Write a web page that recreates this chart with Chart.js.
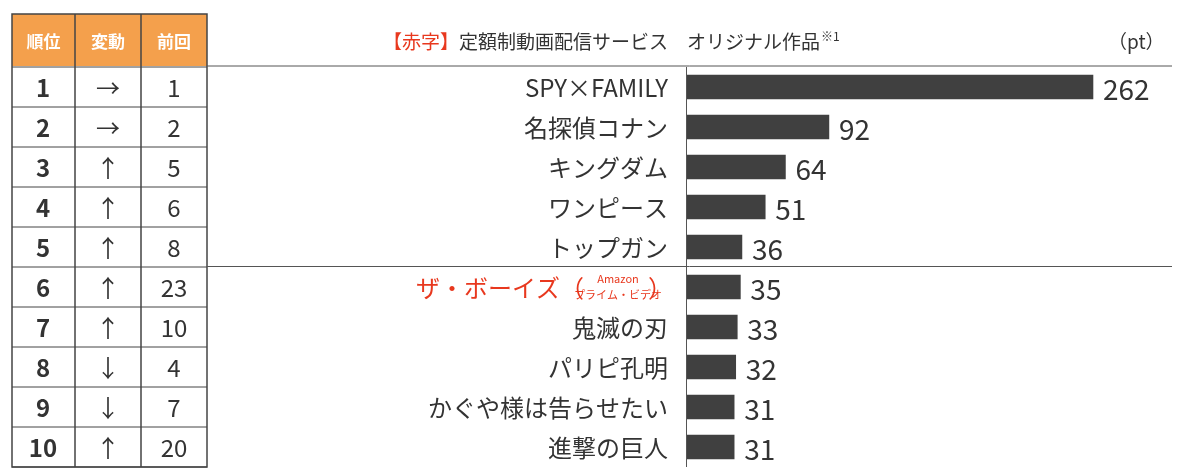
<!DOCTYPE html>
<html><head><meta charset="utf-8">
<script src="https://cdn.jsdelivr.net/npm/chart.js@4"></script>
<style>html,body{margin:0;padding:0;background:#fff}#w{width:1200px;height:473px}</style>
</head><body><div id="w"><canvas id="c"></canvas></div>
<script>
const titles = ["SPY×FAMILY","名探偵コナン","キングダム","ワンピース","トップガン","ザ・ボーイズ","鬼滅の刃","パリピ孔明","かぐや様は告らせたい","進撃の巨人"];
const points = [262,92,64,51,36,35,33,32,31,31];
const ranks = ["1","2","3","4","5","6","7","8","9","10"];
const moves = ["→","→","↑","↑","↑","↑","↑","↓","↓","↑"];
const prevRanks = ["1","2","5","6","8","23","10","4","7","20"];
const headers = ["順位","変動","前回"];
const JP = '"Noto Sans CJK JP","Noto Sans",sans-serif';

const deco = {
  id:'deco',
  afterDraw(chart){
    const ctx=chart.ctx, y=chart.scales.y, ca=chart.chartArea;
    ctx.save();
    const cols=[12,75,141,207];
    ctx.fillStyle='#F4A04C';
    ctx.fillRect(12,14,195,52);
    ctx.strokeStyle='#444';ctx.lineWidth=1.5;
    ctx.strokeRect(12,14,195,453);
    ctx.fillStyle='#fff';ctx.font='bold 17px '+JP;ctx.textAlign='center';ctx.textBaseline='middle';
    headers.forEach((h,i)=>ctx.fillText(h,(cols[i]+cols[i+1])/2,42));
    ctx.beginPath();
    for(let i=1;i<3;i++){ctx.moveTo(cols[i],14);ctx.lineTo(cols[i],467);}
    ctx.stroke();
    ctx.lineWidth=1;
    ctx.beginPath();
    for(let i=0;i<=10;i++){const yy=ca.top+i*(ca.bottom-ca.top)/10;ctx.moveTo(12,yy);ctx.lineTo(207,yy);}
    ctx.stroke();
    ctx.strokeStyle='#555';
    ctx.beginPath();
    ctx.moveTo(207,66);ctx.lineTo(1172,66);
    ctx.moveTo(207,266.5);ctx.lineTo(1172,266.5);
    ctx.stroke();
    ctx.beginPath();ctx.moveTo(ca.left+0.5,ca.top);ctx.lineTo(ca.left+0.5,ca.bottom);ctx.stroke();
    ctx.fillStyle='#333';
    ranks.forEach((r,i)=>{
      const yy=y.getPixelForValue(i);
      ctx.font='bold 24px '+JP;ctx.fillText(r,43,yy+1);
      ctx.font='24px '+JP;ctx.fillText(moves[i],108,yy+1);
      ctx.fillText(prevRanks[i],174,yy+1);
    });
    // category labels
    ctx.textAlign='right';ctx.font='24px '+JP;ctx.fillStyle='#333';
    titles.forEach((t,i)=>{ if(i!==5) ctx.fillText(t,668,y.getPixelForValue(i)+1); });
    const x=chart.scales.x;
    ctx.textAlign='left';ctx.font='28px '+JP;ctx.fillStyle='#333';
    points.forEach((v,i)=>ctx.fillText(v,x.getPixelForValue(v)+10,y.getPixelForValue(i)+2));
    const yy=y.getPixelForValue(5);
    ctx.textAlign='right';ctx.fillStyle='#E8381E';
    ctx.font='24px '+JP;ctx.fillText('）',672,yy+1);
    ctx.font='11px '+JP;ctx.textAlign='center';
    ctx.fillText('Amazon',618,yy-8);ctx.fillText('プライム・ビデオ',618,yy+8);
    ctx.textAlign='right';ctx.font='24px '+JP;ctx.fillText('ザ・ボーイズ（',584,yy+1);
    ctx.textAlign='left';ctx.font='19px '+JP;
    const t1='【赤字】',t2='定額制動画配信サービス　オリジナル作品';
    let tx=383;
    ctx.fillStyle='#E8381E';ctx.fillText(t1,tx,42);tx+=ctx.measureText(t1).width;
    ctx.fillStyle='#333';ctx.fillText(t2,tx,42);tx+=ctx.measureText(t2).width;
    ctx.font='12px '+JP;ctx.fillText('※1',tx+1,36);
    ctx.font='19px '+JP;ctx.fillText('（pt）',1108,42);
    ctx.restore();
  }
};

new Chart(document.getElementById('c'),{
  type:'bar',
  data:{labels:titles,datasets:[{data:points,backgroundColor:'#404040',barThickness:24}]},
  options:{
    indexAxis:'y',responsive:true,maintainAspectRatio:false,animation:false,
    layout:{padding:{top:67,bottom:6,left:686,right:48}},
    plugins:{legend:{display:false},tooltip:{enabled:false}},
    scales:{
      x:{min:0,max:300,display:false},
      y:{display:false}
    }
  },
  plugins:[deco]
});
</script></body></html>
